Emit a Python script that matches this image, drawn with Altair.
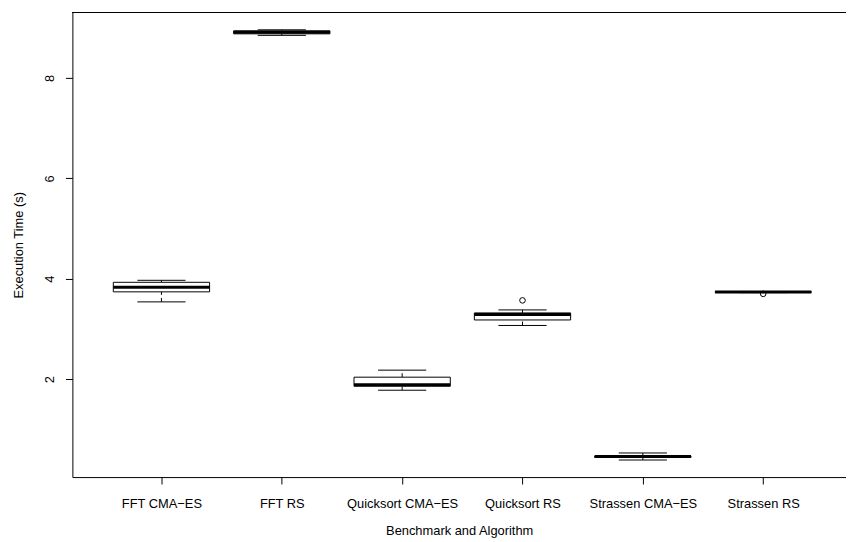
import json
import altair as alt
import pandas as pd

# ---- data ----
categories = ["FFT CMA−ES", "FFT RS", "Quicksort CMA−ES", "Quicksort RS",
              "Strassen CMA−ES", "Strassen RS"]
lower_whisker = [3.54, 8.85, 1.78, 3.07, 0.39, 3.725]
q1_values     = [3.74, 8.88, 1.86, 3.18, 0.44, 3.730]
medians       = [3.83, 8.91, 1.89, 3.29, 0.46, 3.735]
q3_values     = [3.93, 8.94, 2.04, 3.32, 0.47, 3.740]
upper_whisker = [3.97, 8.96, 2.18, 3.38, 0.53, 3.745]
outlier_group = ["Quicksort RS", "Strassen RS"]
outlier_value = [3.57, 3.70]
y_ticks = [2, 4, 6, 8]

positions = list(range(1, len(categories) + 1))
df = pd.DataFrame({
    "cat": categories, "pos": positions,
    "lo": lower_whisker, "q1": q1_values, "med": medians,
    "q3": q3_values, "hi": upper_whisker,
})
out_df = pd.DataFrame({
    "cat": outlier_group,
    "pos": [categories.index(c) + 1 for c in outlier_group],
    "val": outlier_value,
})

W, H = 781, 469
FONT = "Liberation Sans"

xscale = alt.Scale(domain=[0.26, 0.26 + W / 121.5], nice=False, zero=False)
yscale = alt.Scale(domain=[0.05, 9.305], nice=False, zero=False)

label_expr = json.dumps(categories) + "[datum.value - 1]"

x_axis = alt.Axis(values=positions, labelExpr=label_expr, title="Benchmark and Algorithm",
                  grid=False, tickSize=7, labelPadding=14, titlePadding=14,
                  labelFont=FONT, labelFontSize=13, titleFont=FONT, titleFontSize=13,
                  titleFontWeight="normal", labelColor="black", titleColor="black",
                  domainColor="black", tickColor="black", labelFlush=False)
y_axis = alt.Axis(values=y_ticks, title="Execution Time (s)", grid=False, tickSize=7,
                  labelAngle=-90, labelAlign="center", labelBaseline="bottom",
                  labelPadding=9, titlePadding=18,
                  labelFont=FONT, labelFontSize=13, titleFont=FONT, titleFontSize=13,
                  titleFontWeight="normal", labelColor="black", titleColor="black",
                  domainColor="black", tickColor="black")

base = alt.Chart(df).transform_calculate(
    xlo="datum.pos - 0.4", xhi="datum.pos + 0.4",
    slo="datum.pos - 0.2", shi="datum.pos + 0.2",
)

boxes = base.mark_rect(fill="white", stroke="black", strokeWidth=1).encode(
    x=alt.X("xlo:Q", scale=xscale, axis=x_axis),
    x2="xhi:Q",
    y=alt.Y("q1:Q", scale=yscale, axis=y_axis),
    y2="q3:Q",
)
median_line = base.mark_rule(color="black", strokeWidth=3, strokeCap="butt").encode(
    x=alt.X("xlo:Q", scale=xscale), x2="xhi:Q", y=alt.Y("med:Q", scale=yscale),
)
whisk_up = base.mark_rule(color="black", strokeWidth=1, strokeDash=[4, 3]).encode(
    x=alt.X("pos:Q", scale=xscale), y=alt.Y("q3:Q", scale=yscale), y2="hi:Q",
)
whisk_lo = base.mark_rule(color="black", strokeWidth=1, strokeDash=[4, 3]).encode(
    x=alt.X("pos:Q", scale=xscale), y=alt.Y("lo:Q", scale=yscale), y2="q1:Q",
)
staple_up = base.mark_rule(color="black", strokeWidth=1).encode(
    x=alt.X("slo:Q", scale=xscale), x2="shi:Q", y=alt.Y("hi:Q", scale=yscale),
)
staple_lo = base.mark_rule(color="black", strokeWidth=1).encode(
    x=alt.X("slo:Q", scale=xscale), x2="shi:Q", y=alt.Y("lo:Q", scale=yscale),
)
outliers = alt.Chart(out_df).mark_point(shape="circle", filled=False, color="black",
                                         size=32, strokeWidth=1, opacity=1).encode(
    x=alt.X("pos:Q", scale=xscale), y=alt.Y("val:Q", scale=yscale),
)
frame_top = alt.Chart(df).mark_rule(color="black", strokeWidth=1).encode(
    x=alt.value(0), x2=alt.value(W), y=alt.value(0),
)

chart = alt.layer(frame_top, whisk_up, whisk_lo, staple_up, staple_lo, boxes,
                  median_line, outliers).properties(
    width=W, height=H,
    autosize=alt.AutoSizeParams(type="none"),
    padding={"left": 65, "top": 2, "right": 0, "bottom": 63},
    background="white",
).configure_view(stroke=None)

chart.save("out.html", embed_options={"renderer": "svg", "actions": False})
